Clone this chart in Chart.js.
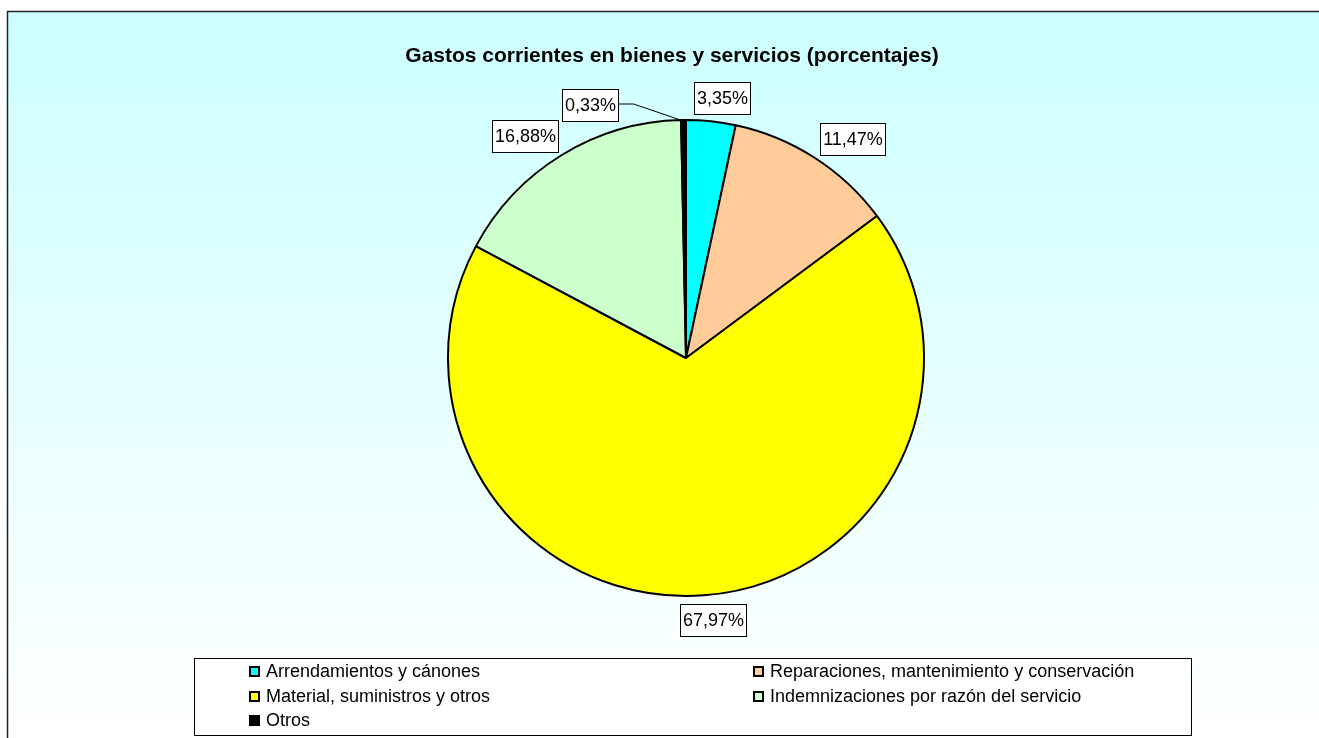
<!DOCTYPE html>
<html>
<head>
<meta charset="utf-8">
<script src="https://cdn.jsdelivr.net/npm/chart.js@4"></script>
<style>
html,body{margin:0;padding:0;background:#fff;}
canvas{display:block;}
</style>
</head>
<body>
<canvas id="pie" width="1319" height="738"></canvas>
<script>
// data
const titleText = "Gastos corrientes en bienes y servicios (porcentajes)"
const categories = [
  "Arrendamientos y cánones",
  "Reparaciones, mantenimiento y conservación",
  "Material, suministros y otros",
  "Indemnizaciones por razón del servicio",
  "Otros"
]
const shares = [3.35, 11.47, 67.97, 16.88, 0.33]
const sliceColors = ["#00FFFF", "#FFCC99", "#FFFF00", "#CCFFCC", "#000000"]

const FONT = '"Liberation Sans", Arial, sans-serif'

function fmt(v){
  return v.toFixed(2).replace(".", ",") + "%"
}

// gradient background + frame
const backdrop = {
  id: "backdrop",
  beforeDraw(chart){
    const ctx = chart.ctx
    ctx.save()
    const g = ctx.createLinearGradient(0, 11, 0, 738)
    g.addColorStop(0, "#ccffff")
    g.addColorStop(1, "#ffffff")
    ctx.fillStyle = g
    ctx.fillRect(7, 11, chart.width - 7, chart.height - 11)
    ctx.strokeStyle = "#222"
    ctx.lineWidth = 1.5
    ctx.beginPath()
    ctx.moveTo(7.5, chart.height)
    ctx.lineTo(7.5, 11.5)
    ctx.lineTo(chart.width, 11.5)
    ctx.stroke()
    ctx.restore()
  }
}

function boxWidth(ctx, text){
  ctx.font = "18px " + FONT
  return Math.round(ctx.measureText(text).width + 5)
}

function drawBox(ctx, cx, cy, text){
  const w = boxWidth(ctx, text)
  const h = 32
  const x = Math.round(cx - w / 2) + 0.5
  const y = Math.round(cy - h / 2) + 0.5
  ctx.fillStyle = "#fff"
  ctx.fillRect(x, y, w, h)
  ctx.strokeStyle = "#000"
  ctx.lineWidth = 1
  ctx.strokeRect(x, y, w, h)
  ctx.fillStyle = "#000"
  ctx.textAlign = "center"
  ctx.textBaseline = "middle"
  ctx.fillText(text, x + w / 2, y + h / 2 + 1)
}

const decorations = {
  id: "decorations",
  afterDraw(chart){
    const ctx = chart.ctx
    ctx.save()

    // title
    ctx.font = "bold 21px " + FONT
    ctx.fillStyle = "#000"
    ctx.textAlign = "center"
    ctx.textBaseline = "middle"
    ctx.fillText(titleText, 672, 56)

    // data labels
    const meta = chart.getDatasetMeta(0)
    meta.data.forEach((arc, i) => {
      const p = arc.getProps(["x", "y", "startAngle", "endAngle", "outerRadius"], true)
      const mid = (p.startAngle + p.endAngle) / 2
      const text = fmt(shares[i])
      if (shares[i] < 1) {
        // tiny slice: label pulled aside with a leader line
        const ex = p.x + p.outerRadius * Math.cos(mid) - 3
        const ey = p.y + p.outerRadius * Math.sin(mid)
        const bx = ex - 47, by = ey - 16
        ctx.strokeStyle = "#000"
        ctx.lineWidth = 1
        ctx.beginPath()
        ctx.moveTo(ex, ey)
        ctx.lineTo(bx, by)
        ctx.lineTo(bx - 16, by)
        ctx.stroke()
        const w = boxWidth(ctx, text)
        drawBox(ctx, bx - 16 - w / 2, by + 1, text)
      } else {
        const c = Math.cos(mid)
        const cx = p.x + (p.outerRadius + 62) * c + 4 * Math.sign(c)
        const cy = p.y + (p.outerRadius + 24) * Math.sin(mid) + 1
        drawBox(ctx, cx, cy, text)
      }
    })

    // legend
    const lx = 194.5, ly = 658.5, lw = 997, lh = 77
    ctx.fillStyle = "#fff"
    ctx.fillRect(lx, ly, lw, lh)
    ctx.strokeStyle = "#000"
    ctx.lineWidth = 1
    ctx.strokeRect(lx, ly, lw, lh)
    const colX = [249, 753]
    const rowY = [671, 696, 720]
    ctx.font = "18px " + FONT
    ctx.textAlign = "left"
    ctx.textBaseline = "middle"
    categories.forEach((name, i) => {
      const sx = colX[i % 2], sy = rowY[Math.floor(i / 2)]
      ctx.fillStyle = "#000"
      ctx.fillRect(sx, sy - 5, 11, 11)
      ctx.fillStyle = sliceColors[i]
      ctx.fillRect(sx + 2, sy - 3, 7, 7)
      ctx.fillStyle = "#000"
      ctx.fillText(name, sx + 17, sy + 1)
    })

    ctx.restore()
  }
}

new Chart(document.getElementById("pie"), {
  type: "pie",
  data: {
    labels: categories,
    datasets: [{
      data: shares,
      backgroundColor: sliceColors,
      borderColor: "#000",
      borderWidth: 2,
      hoverOffset: 0
    }]
  },
  options: {
    responsive: false,
    animation: false,
    layout: {
      padding: {left: 447, right: 394, top: 119, bottom: 141}
    },
    plugins: {
      legend: {display: false},
      tooltip: {enabled: false},
      title: {display: false}
    }
  },
  plugins: [backdrop, decorations]
})
</script>
</body>
</html>
